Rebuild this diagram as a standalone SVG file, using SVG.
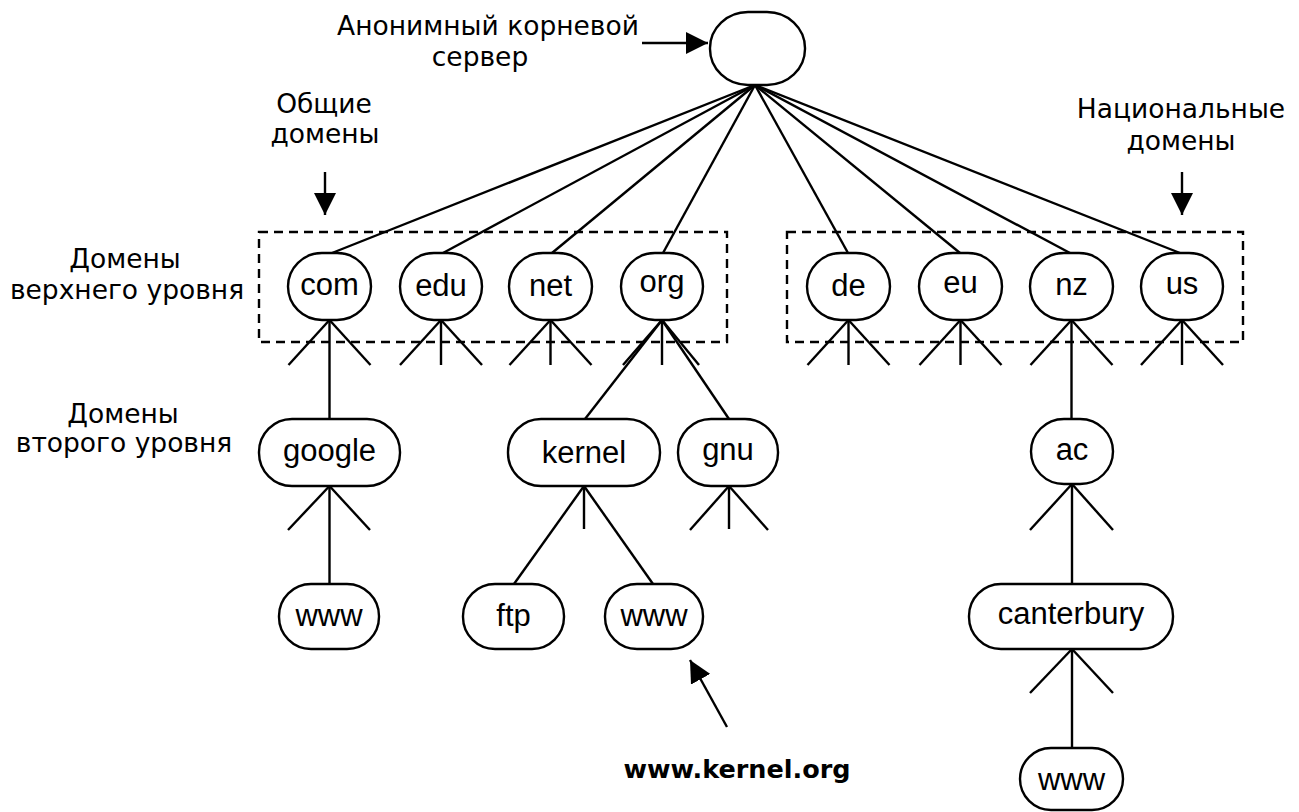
<svg xmlns="http://www.w3.org/2000/svg" width="1299" height="812" viewBox="0 0 1299 812">
<style>
.n{fill:#fff;stroke:#000;stroke-width:2.4}
.t{font-family:"Liberation Sans",Arial,sans-serif;font-size:31px;text-anchor:middle;fill:#000}
.l{font-family:"DejaVu Sans",sans-serif;font-size:26.5px;text-anchor:middle;fill:#000}
.b{font-family:"DejaVu Sans",sans-serif;font-size:25.5px;font-weight:bold;text-anchor:middle;fill:#000}
.c line{stroke:#000;stroke-width:2.4}
.d{fill:none;stroke:#000;stroke-width:2.4;stroke-dasharray:9 6}
.a{stroke:#000;stroke-width:2.4;marker-end:url(#ah)}
</style>
<defs>
<marker id="ah" markerUnits="userSpaceOnUse" markerWidth="22" markerHeight="22" refX="22" refY="11" orient="auto"><path d="M0,0 L22,11 L0,22 z" fill="#000"/></marker>
</defs>
<rect class="d" x="259" y="232" width="468" height="110"/>
<rect class="d" x="787" y="232" width="456" height="110"/>
<g class="c" id="connectors">
<line x1="755" y1="85" x2="332" y2="253"/>
<line x1="755" y1="85" x2="443" y2="253"/>
<line x1="755" y1="85" x2="552" y2="253"/>
<line x1="755" y1="85" x2="663" y2="253"/>
<line x1="755" y1="85" x2="848" y2="253"/>
<line x1="755" y1="85" x2="960" y2="253"/>
<line x1="755" y1="85" x2="1070" y2="253"/>
<line x1="755" y1="85" x2="1180" y2="253"/>
<line x1="329.5" y1="320" x2="288.5" y2="365"/><line x1="329.5" y1="320" x2="370.5" y2="365"/><line x1="329.5" y1="320" x2="329.5" y2="419"/>
<line x1="441" y1="320" x2="400" y2="365"/><line x1="441" y1="320" x2="482" y2="365"/><line x1="441" y1="320" x2="441" y2="365"/>
<line x1="550.5" y1="320" x2="509.5" y2="365"/><line x1="550.5" y1="320" x2="591.5" y2="365"/><line x1="550.5" y1="320" x2="550.5" y2="365"/>
<line x1="662" y1="320" x2="623" y2="365"/><line x1="662" y1="320" x2="699" y2="365"/><line x1="662" y1="320" x2="662" y2="365"/>
<line x1="662" y1="320" x2="585" y2="419"/><line x1="662" y1="320" x2="729" y2="419"/>
<line x1="848.5" y1="320" x2="807.5" y2="365"/><line x1="848.5" y1="320" x2="889.5" y2="365"/><line x1="848.5" y1="320" x2="848.5" y2="365"/>
<line x1="960.5" y1="320" x2="919.5" y2="365"/><line x1="960.5" y1="320" x2="1001.5" y2="365"/><line x1="960.5" y1="320" x2="960.5" y2="365"/>
<line x1="1071.5" y1="320" x2="1030.5" y2="365"/><line x1="1071.5" y1="320" x2="1112.5" y2="365"/><line x1="1071.5" y1="320" x2="1071.5" y2="419"/>
<line x1="1182" y1="320" x2="1141" y2="365"/><line x1="1182" y1="320" x2="1223" y2="365"/><line x1="1182" y1="320" x2="1182" y2="365"/>
<line x1="329.5" y1="486" x2="288" y2="530"/><line x1="329.5" y1="486" x2="370" y2="530"/><line x1="329.5" y1="486" x2="329.5" y2="584"/>
<line x1="584" y1="486" x2="584" y2="529"/><line x1="584" y1="486" x2="514" y2="584"/><line x1="584" y1="486" x2="653" y2="584"/>
<line x1="729" y1="486" x2="690" y2="530"/><line x1="729" y1="486" x2="768" y2="530"/><line x1="729" y1="486" x2="729" y2="529"/>
<line x1="1072" y1="484" x2="1030" y2="530"/><line x1="1072" y1="484" x2="1113" y2="530"/><line x1="1072" y1="484" x2="1072" y2="584"/>
<line x1="1072" y1="649" x2="1030" y2="693"/><line x1="1072" y1="649" x2="1113" y2="693"/><line x1="1072" y1="649" x2="1072" y2="748"/>
<line class="a" x1="642" y1="43" x2="708" y2="43"/>
<line class="a" x1="325" y1="172" x2="325" y2="215"/>
<line class="a" x1="1182" y1="172" x2="1182" y2="215"/>
<line class="a" x1="727" y1="727" x2="690" y2="660"/>
</g>
<g id="root"><rect class="n" x="710" y="12" width="95" height="73" rx="38" ry="36"/></g>
<g id="com"><rect class="n" x="288" y="253" width="83" height="67" rx="34"/><text class="t" x="329.5" y="295">com</text></g>
<g id="edu"><rect class="n" x="400" y="253" width="82" height="67" rx="34"/><text class="t" x="441" y="296">edu</text></g>
<g id="net"><rect class="n" x="509" y="253" width="83" height="67" rx="34"/><text class="t" x="550.5" y="296">net</text></g>
<g id="org"><rect class="n" x="621" y="253" width="82" height="67" rx="34"/><text class="t" x="662" y="292">org</text></g>
<g id="de"><rect class="n" x="807" y="253" width="83" height="67" rx="34"/><text class="t" x="848.5" y="296">de</text></g>
<g id="eu"><rect class="n" x="919" y="253" width="83" height="67" rx="34"/><text class="t" x="960.5" y="293">eu</text></g>
<g id="nz"><rect class="n" x="1030" y="253" width="83" height="67" rx="34"/><text class="t" x="1071.5" y="295">nz</text></g>
<g id="us"><rect class="n" x="1141" y="253" width="82" height="67" rx="34"/><text class="t" x="1182" y="294">us</text></g>
<g id="google"><rect class="n" x="259" y="419" width="141" height="67" rx="33"/><text class="t" x="329.5" y="461">google</text></g>
<g id="kernel"><rect class="n" x="508" y="419" width="152" height="67" rx="33"/><text class="t" x="584" y="463">kernel</text></g>
<g id="gnu"><rect class="n" x="678" y="419" width="100" height="67" rx="33"/><text class="t" x="728" y="460">gnu</text></g>
<g id="ac"><rect class="n" x="1031" y="419" width="82" height="65" rx="33"/><text class="t" x="1072" y="460">ac</text></g>
<g id="www-google"><rect class="n" x="279" y="584" width="100" height="65" rx="32"/><text class="t" x="329" y="626">www</text></g>
<g id="ftp"><rect class="n" x="463" y="584" width="101" height="65" rx="32"/><text class="t" x="513.5" y="626">ftp</text></g>
<g id="www-kernel"><rect class="n" x="605" y="584" width="98" height="65" rx="32"/><text class="t" x="654" y="626">www</text></g>
<g id="canterbury"><rect class="n" x="969" y="584" width="204" height="65" rx="32"/><text class="t" x="1071" y="624">canterbury</text></g>
<g id="www-canterbury"><rect class="n" x="1020" y="748" width="103" height="62" rx="31"/><text class="t" x="1071.5" y="790">www</text></g>
<g id="labels">
<text class="l" x="488" y="35">Анонимный корневой</text>
<text class="l" x="480" y="66">сервер</text>
<text class="l" x="324" y="113">Общие</text>
<text class="l" x="325" y="143">домены</text>
<text class="l" x="1181" y="118">Национальные</text>
<text class="l" x="1181" y="150">домены</text>
<text class="l" x="125" y="268">Домены</text>
<text class="l" x="127" y="299">верхнего уровня</text>
<text class="l" x="123" y="423">Домены</text>
<text class="l" x="124" y="452">второго уровня</text>
<text class="b" x="737" y="778">www.kernel.org</text>
</g>
</svg>
